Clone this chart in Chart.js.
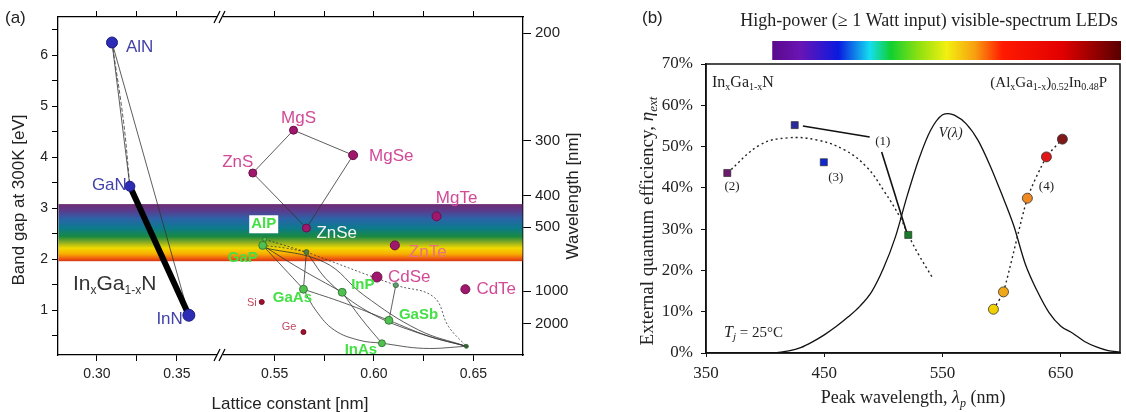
<!DOCTYPE html>
<html>
<head>
<meta charset="utf-8">
<script src="https://cdn.jsdelivr.net/npm/chart.js@4.4.1/dist/chart.umd.min.js"></script>
<style>
  html, body { margin: 0; padding: 0; background: #fff; }
  #wrap { position: relative; width: 1126px; height: 412px; }
  #chartA { position: absolute; left: 0; top: 0; }
  #chartB { position: absolute; left: 600px; top: 0; }
</style>
</head>
<body>
<div id="wrap">
  <canvas id="chartA" width="600" height="412"></canvas>
  <canvas id="chartB" width="526" height="412"></canvas>
</div>
<script>
const SANS = '"Liberation Sans", Arial, sans-serif';
const SERIF = '"Liberation Serif", "Times New Roman", serif';

// ---------- panel (a): band gap vs lattice constant ----------
const nitrideNames = ['AlN', 'GaN', 'InN'];
const nitrideLattice = [0.3094, 0.3206, 0.3575];
const nitrideGap = [6.25, 3.43, 0.90];

const iiviNames = ['ZnS', 'MgS', 'MgSe', 'ZnSe', 'MgTe', 'ZnTe', 'CdSe', 'CdTe'];
const iiviLattice = [0.539, 0.5595, 0.5895, 0.566, 0.6315, 0.6105, 0.6015, 0.646];
const iiviGap = [3.69, 4.53, 4.04, 2.61, 2.84, 2.27, 1.65, 1.41];

const iiivNames = ['AlP', 'GaP', 'AlAs', 'GaAs', 'InP', 'AlSb', 'GaSb', 'InAs', 'InSb'];
const iiivLattice = [0.545, 0.544, 0.566, 0.5645, 0.584, 0.611, 0.6075, 0.604, 0.6465];
const iiivGap = [2.39, 2.27, 2.14, 1.41, 1.35, 1.49, 0.80, 0.35, 0.29];

const groupIVNames = ['Si', 'Ge'];
const groupIVLattice = [0.5435, 0.5645];
const groupIVGap = [1.16, 0.57];

const visibleBand = [1.96, 3.08];   // eV range of the rainbow strip

// alloy curves as [lattice, gap] pairs
const inganCurve = [[0.3206, 3.43], [0.3575, 0.90]];
const nitrideStraight = [
  [[0.3094, 6.25], [0.3206, 3.43]],
  [[0.3094, 6.25], [0.3575, 0.90]]
];
const nitrideBowed = [[0.3094, 6.25], [0.3166, 4.70], [0.3206, 3.43]];
const iiviLoop = [[0.539, 3.69], [0.5595, 4.53], [0.5895, 4.04], [0.566, 2.61], [0.539, 3.69]];
const iiivSolid = [
  [[0.544, 2.27], [0.5645, 1.41]],
  [[0.566, 2.14], [0.5645, 1.41]],
  [[0.5645, 1.41], [0.571, 0.98], [0.58, 0.61], [0.5925, 0.41], [0.604, 0.35]],
  [[0.5645, 1.41], [0.585, 1.14], [0.6075, 0.80]],
  [[0.544, 2.27], [0.5625, 1.82], [0.584, 1.35]],
  [[0.584, 1.35], [0.5935, 0.84], [0.604, 0.35]],
  [[0.604, 0.35], [0.625, 0.25], [0.6465, 0.29]],
  [[0.6075, 0.80], [0.6275, 0.49], [0.6465, 0.29]],
  [[0.611, 1.49], [0.6075, 0.80]],
  [[0.566, 2.14], [0.5775, 1.55], [0.5975, 0.96], [0.6225, 0.55], [0.6465, 0.29]],
  [[0.544, 2.23], [0.575, 1.94], [0.595, 1.29], [0.6225, 0.61], [0.6465, 0.29]]
];
const iiivDotted = [
  [[0.545, 2.39], [0.566, 2.14]],
  [[0.544, 2.27], [0.555, 2.22], [0.566, 2.14]],
  [[0.566, 2.14], [0.611, 1.49], [0.63, 1.26], [0.6375, 0.68], [0.6465, 0.29]]
];

const latticeTicks = [0.30, 0.325, 0.35, 0.55, 0.575, 0.60, 0.625, 0.65];
const latticeLabels = ['0.30', '', '0.35', '0.55', '', '0.60', '', '0.65'];
const gapTicks = [0.5, 1, 1.5, 2, 2.5, 3, 3.5, 4, 4.5, 5, 5.5, 6, 6.5];
const gapLabels = ['', '1', '', '2', '', '3', '', '4', '', '5', '', '6', ''];
const wavelengthTickGap = [6.43, 4.33, 3.25, 2.63, 1.37, 0.73];
const wavelengthLabels = ['200', '300', '400', '500', '1000', '2000'];

// ---------- panel (b): EQE vs peak wavelength ----------
const inganLambda = [368, 425, 449.6, 521];
const inganEqe = [43.6, 55.2, 46.2, 28.6];
const inganColors = ['#6a1a6a', '#2a2a9a', '#1028d0', '#1a7a2a'];

const alinpLambda = [593, 601.5, 621.7, 637.8, 651.3];
const alinpEqe = [10.6, 14.8, 37.5, 47.5, 51.8];
const alinpColors = ['#f0d000', '#f0a818', '#f08a20', '#e01818', '#801818'];

const inganFitLambda = [368, 395.6, 419, 443.7, 467, 486, 501, 514, 521, 530, 541.6];
const inganFitEqe = [43.6, 50.4, 52.1, 51.6, 49.2, 45, 39, 32.9, 28.6, 23.7, 18.2];

const vLambda = [410, 420, 430, 440, 450, 460, 470, 480, 490, 500, 510, 520, 530, 540, 550, 555, 560,
  570, 580, 590, 600, 610, 620, 630, 640, 650, 660, 670, 680, 690, 700];
const vValue = [0.1, 0.5, 1.3, 2.7, 4.4, 6.4, 8.7, 11.3, 14.8, 20.5, 28, 38, 47, 54, 57.7, 58, 57.6,
  55.5, 51.5, 45.5, 38.5, 31, 21.5, 15, 9.8, 6.5, 4.8, 2.8, 1.5, 0.6, 0.2];

const note1Lambda = [431.9, 488.4];
const note1Eqe = [55.0, 52.3];
const note1bLambda = [498.5, 519.6];
const note1bEqe = [48.7, 29.3];

const noteText = ['(1)', '(2)', '(3)', '(4)'];
const noteLambda = [499.4, 372, 459.7, 637.8];
const noteEqe = [51.3, 40.2, 42.6, 40.4];

const peakTicks = [350, 450, 550, 650];
const colorbarRange = [406, 700];

// ---------- helpers ----------
const zip = (xs, ys) => xs.map((x, i) => ({ x: x, y: ys[i] }));
const pairs = arr => arr.map(p => ({ x: p[0], y: p[1] }));

function richText(ctx, parts, x, y, align, rot) {
  ctx.save();
  ctx.translate(x, y);
  if (rot) ctx.rotate(rot);
  ctx.textAlign = 'left';
  ctx.textBaseline = 'alphabetic';
  let w = 0;
  parts.forEach(p => { ctx.font = p[1]; w += ctx.measureText(p[0]).width; });
  let cx = align === 'center' ? -w / 2 : (align === 'right' ? -w : 0);
  parts.forEach(p => {
    ctx.font = p[1];
    ctx.fillText(p[0], cx, p[2] || 0);
    cx += ctx.measureText(p[0]).width;
  });
  ctx.restore();
}

// broken lattice-constant axis
const AXIS_BREAK = { lowMin: 0.2756, lowMax: 0.377, highMin: 0.5225, highMax: 0.675, split: 162 / 465 };
class BrokenScale extends Chart.LinearScale {
  static id = 'broken';
  static defaults = Chart.LinearScale.defaults;
  toDecimal(v) {
    const b = AXIS_BREAK;
    if (v < (b.lowMax + b.highMin) / 2) return (v - b.lowMin) / (b.lowMax - b.lowMin) * b.split;
    return b.split + (v - b.highMin) / (b.highMax - b.highMin) * (1 - b.split);
  }
  getPixelForValue(v) {
    return this.getPixelForDecimal(this.toDecimal(v));
  }
  getValueForPixel(p) {
    const d = this.getDecimalForPixel(p), b = AXIS_BREAK;
    if (d < b.split) return b.lowMin + d / b.split * (b.lowMax - b.lowMin);
    return b.highMin + (d - b.split) / (1 - b.split) * (b.highMax - b.highMin);
  }
}
Chart.register(BrokenScale);

// ---------- panel (a) datasets ----------
const thinLine = (pts, dash, tension) => ({
  data: pairs(pts), showLine: true, pointRadius: 0, borderColor: '#333', borderWidth: 0.8,
  borderDash: dash || [], tension: tension === undefined ? 0.4 : tension, order: 2
});

const datasetsA = [
  { data: zip(nitrideLattice, nitrideGap), pointRadius: [5.5, 5, 6], pointBackgroundColor: '#2c2cb4',
    pointBorderColor: '#1c1c86', pointBorderWidth: 1, order: 0 },
  { data: zip(iiviLattice, iiviGap), pointRadius: [4, 4, 4.5, 4, 4.5, 4.5, 5, 4.5],
    pointBackgroundColor: '#a0186e', pointBorderColor: '#6a0e48', pointBorderWidth: 1, order: 0 },
  { data: zip(iiivLattice, iiivGap), pointRadius: [2, 4, 2.5, 4, 4, 2.5, 4, 3.5, 2],
    pointBackgroundColor: ['#50c050', '#50c050', '#5a7a4a', '#50c050', '#50c050', '#6a9a7a', '#50c050', '#50c050', '#3a5a3a'],
    pointBorderColor: '#2a6a2a', pointBorderWidth: 0.8, order: 0 },
  { data: zip(groupIVLattice, groupIVGap), pointRadius: 2.5, pointBackgroundColor: '#a01030',
    pointBorderColor: '#701020', order: 0 },
  { data: pairs(inganCurve), showLine: true, pointRadius: 0, borderColor: '#000', borderWidth: 6,
    borderCapStyle: 'round', order: 1 },
  ...nitrideStraight.map(c => thinLine(c, [], 0)),
  thinLine(nitrideBowed, [4, 2]),
  thinLine(iiviLoop, [], 0),
  ...iiivSolid.map(c => thinLine(c)),
  ...iiivDotted.map(c => thinLine(c, [2, 2]))
];

const labelStyleA = {
  AlN: { dx: 14, dy: 5, align: 'left' }, GaN: { dx: -38, dy: -1, align: 'left' }, InN: { dx: -6, dy: 4, align: 'right' },
  ZnS: { dx: -15, dy: -11, align: 'center' }, MgS: { dx: 5, dy: -12, align: 'center' },
  MgSe: { dx: 16, dy: 1, align: 'left' }, MgTe: { dx: 20, dy: -18, align: 'center' },
  ZnSe: { dx: 10, dy: 5, align: 'left', color: '#f4f4f4' }, ZnTe: { dx: 14, dy: 7, align: 'left', color: '#ea6e86' },
  CdSe: { dx: 11, dy: 0, align: 'left' }, CdTe: { dx: 11, dy: 0, align: 'left' },
  AlP: { dx: -1, dy: -15, align: 'center', box: true }, GaP: { dx: -5, dy: 12, align: 'right' },
  GaAs: { dx: -11, dy: 9, align: 'center' }, InP: { dx: 9, dy: -7, align: 'left' },
  GaSb: { dx: 10, dy: -5, align: 'left' }, InAs: { dx: -21, dy: 7, align: 'center' },
  Si: { dx: -5, dy: 1, align: 'right' }, Ge: { dx: -7, dy: -5, align: 'right' }
};

const panelAPlugin = {
  id: 'panelA',
  beforeDatasetsDraw(chart) {
    const { ctx, chartArea: ca, scales: { y } } = chart;
    const top = y.getPixelForValue(visibleBand[1]);
    const bot = y.getPixelForValue(visibleBand[0]);
    const g = ctx.createLinearGradient(0, top, 0, bot);
    [[0, '#6e2c72'], [0.12, '#5a3c8e'], [0.26, '#2a64a8'], [0.42, '#0c7a8c'], [0.57, '#1a8a40'],
     [0.67, '#8cac22'], [0.77, '#f2da00'], [0.87, '#f8b000'], [0.95, '#f06010'], [1, '#d83412']]
      .forEach(s => g.addColorStop(s[0], s[1]));
    ctx.save();
    ctx.fillStyle = g;
    ctx.fillRect(ca.left + 0.5, top, ca.right - ca.left - 1, bot - top);
    ctx.restore();
  },
  afterDatasetsDraw(chart) {
    const { ctx, scales: { x, y } } = chart;
    const groups = [
      [nitrideNames, nitrideLattice, nitrideGap, 'normal 17px ' + SANS, '#4242aa'],
      [iiviNames, iiviLattice, iiviGap, 'normal 17px ' + SANS, '#d24a96'],
      [iiivNames, iiivLattice, iiivGap, 'bold 15px ' + SANS, '#44e044'],
      [groupIVNames, groupIVLattice, groupIVGap, 'normal 11px ' + SANS, '#c04a60']
    ];
    ctx.save();
    ctx.textBaseline = 'middle';
    groups.forEach(([names, xs, ys, font, color]) => {
      names.forEach((n, i) => {
        const st = labelStyleA[n];
        if (!st) return;
        const px = x.getPixelForValue(xs[i]) + st.dx;
        const py = y.getPixelForValue(ys[i]) + st.dy;
        ctx.font = font;
        ctx.textAlign = st.align;
        if (st.box) {
          const w = ctx.measureText(n).width;
          ctx.fillStyle = '#fff';
          ctx.fillRect(px - w / 2 - 2, py - 9, w + 4, 18);
        }
        ctx.fillStyle = st.color || color;
        ctx.fillText(n, px, py);
      });
    });
    ctx.restore();
  },
  afterDraw(chart) {
    const { ctx, chartArea: ca, scales: { x } } = chart;
    ctx.save();
    // axis break marks
    const bx = x.left + AXIS_BREAK.split * x.width;
    [ca.top, ca.bottom].forEach(by => {
      ctx.fillStyle = '#fff';
      ctx.fillRect(bx - 3, by - 2, 6, 4);
      ctx.strokeStyle = '#000';
      ctx.lineWidth = 1.2;
      [-3, 2].forEach(o => {
        ctx.beginPath();
        ctx.moveTo(bx + o - 3, by + 6);
        ctx.lineTo(bx + o + 3, by - 6);
        ctx.stroke();
      });
    });
    // titles and text
    ctx.fillStyle = '#222';
    richText(ctx, [['(a)', '17px ' + SANS]], 5, 23, 'left');
    richText(ctx, [['Band gap at 300K [eV]', '17px ' + SANS]], 24, 200, 'center', -Math.PI / 2);
    richText(ctx, [['Wavelength [nm]', '17px ' + SANS]], 578, 196, 'center', -Math.PI / 2);
    richText(ctx, [['Lattice constant [nm]', '17px ' + SANS]], 290, 409, 'center');
    ctx.fillStyle = '#333';
    richText(ctx, [['In', '21px ' + SANS], ['x', '12px ' + SANS, 4], ['Ga', '21px ' + SANS],
      ['1-x', '12px ' + SANS, 4], ['N', '21px ' + SANS]], 73, 290, 'left');
    ctx.restore();
  }
};

const axisCommonA = {
  grid: { drawOnChartArea: false, tickLength: 6, color: '#000' },
  border: { color: '#000', width: 1.3 }
};

new Chart(document.getElementById('chartA'), {
  type: 'scatter',
  data: { datasets: datasetsA },
  options: {
    responsive: false,
    animation: false,
    layout: { padding: 0 },
    plugins: { legend: { display: false }, tooltip: { enabled: false } },
    scales: {
      x: {
        type: 'broken', position: 'bottom', min: AXIS_BREAK.lowMin, max: AXIS_BREAK.highMax,
        afterBuildTicks: s => { s.ticks = latticeTicks.map(v => ({ value: v })); },
        afterFit: s => { s.height = 57; },
        ticks: { autoSkip: false, maxRotation: 0, padding: 5, color: '#222', font: { family: SANS, size: 14 },
          callback: (v, i) => latticeLabels[i] },
        ...axisCommonA
      },
      xTop: {
        type: 'broken', position: 'top', min: AXIS_BREAK.lowMin, max: AXIS_BREAK.highMax,
        afterBuildTicks: s => { s.ticks = latticeTicks.map(v => ({ value: v })); },
        afterFit: s => { s.height = 17; },
        ticks: { autoSkip: false, maxRotation: 0, callback: () => '' },
        ...axisCommonA
      },
      y: {
        type: 'linear', position: 'left', min: 0.12, max: 6.75,
        afterBuildTicks: s => { s.ticks = gapTicks.map(v => ({ value: v })); },
        afterFit: s => { s.width = 58; },
        ticks: { autoSkip: false, padding: 4, color: '#222', font: { family: SANS, size: 14 },
          callback: (v, i) => gapLabels[i] },
        ...axisCommonA
      },
      yR: {
        type: 'linear', position: 'right', min: 0.12, max: 6.75,
        afterBuildTicks: s => { s.ticks = wavelengthTickGap.map(v => ({ value: v })); },
        afterFit: s => { s.width = 77; },
        ticks: { autoSkip: false, padding: 4, color: '#222', font: { family: SANS, size: 15 },
          callback: (v, i) => wavelengthLabels[i] },
        grid: { drawOnChartArea: false, tickLength: 8, color: '#000' },
        border: { color: '#000', width: 1.3 }
      }
    }
  },
  plugins: [panelAPlugin]
});

// ---------- panel (b) ----------
const datasetsB = [
  { data: zip(inganLambda, inganEqe), pointStyle: 'rect', pointRadius: 5, pointBackgroundColor: inganColors,
    pointBorderColor: '#222', pointBorderWidth: 0.6, order: 0 },
  { data: zip(alinpLambda, alinpEqe), pointStyle: 'circle', pointRadius: 5, pointBackgroundColor: alinpColors,
    pointBorderColor: '#333', pointBorderWidth: 0.8, order: 0 },
  { data: zip(vLambda, vValue), showLine: true, pointRadius: 0, borderColor: '#111', borderWidth: 1.3,
    cubicInterpolationMode: 'monotone', order: 1 },
  { data: zip(inganFitLambda, inganFitEqe), showLine: true, pointRadius: 0, borderColor: '#222', borderWidth: 1.4,
    borderDash: [2, 3], tension: 0.4, order: 1 },
  { data: zip(alinpLambda, alinpEqe), showLine: true, pointRadius: 0, borderColor: '#222', borderWidth: 1.4,
    borderDash: [2, 3], tension: 0.2, order: 1 },
  { data: zip(note1Lambda, note1Eqe), showLine: true, pointRadius: 0, borderColor: '#111', borderWidth: 1.6, order: 1 },
  { data: zip(note1bLambda, note1bEqe), showLine: true, pointRadius: 0, borderColor: '#111', borderWidth: 1.6, order: 1 }
];

const panelBPlugin = {
  id: 'panelB',
  afterDraw(chart) {
    const { ctx, chartArea: ca, scales: { x, y } } = chart;
    ctx.save();
    ctx.strokeStyle = '#111';
    ctx.lineWidth = 1.5;
    ctx.strokeRect(ca.left, ca.top, ca.right - ca.left, ca.bottom - ca.top);

    // spectrum bar
    const l = x.getPixelForValue(colorbarRange[0]), r = x.getPixelForValue(colorbarRange[1]) + 1;
    const g = ctx.createLinearGradient(l, 0, r, 0);
    [[0, '#5a0a8c'], [0.08, '#6a14b4'], [0.19, '#0a1ae0'], [0.28, '#14def0'], [0.34, '#10d030'],
     [0.42, '#8ee010'], [0.5, '#f2f010'], [0.58, '#f8a010'], [0.66, '#ff1a00'], [0.83, '#e20000'], [1, '#580000']]
      .forEach(s => g.addColorStop(s[0], s[1]));
    ctx.fillStyle = g;
    ctx.fillRect(l, 41, r - l, 19);

    ctx.fillStyle = '#222';
    richText(ctx, [['(b)', '17px ' + SANS]], 42, 23, 'left');
    richText(ctx, [['High-power (\u2265 1 Watt input) visible-spectrum LEDs', '18px ' + SERIF]], 329, 26, 'center');
    richText(ctx, [['External quantum efficiency, ', '19px ' + SERIF], ['\u03b7', 'italic 19px ' + SERIF],
      ['ext', 'italic 13px ' + SERIF, 4]], 53, 221, 'center', -Math.PI / 2);
    richText(ctx, [['Peak wavelength, ', '18px ' + SERIF], ['\u03bb', 'italic 18px ' + SERIF],
      ['p', 'italic 12px ' + SERIF, 4], [' (nm)', '18px ' + SERIF]], 313, 403, 'center');

    richText(ctx, [['In', '16px ' + SERIF], ['x', '10px ' + SERIF, 3], ['Ga', '16px ' + SERIF],
      ['1-x', '10px ' + SERIF, 3], ['N', '16px ' + SERIF]], 112, 87, 'left');
    richText(ctx, [['(Al', '15px ' + SERIF], ['x', '10px ' + SERIF, 3], ['Ga', '15px ' + SERIF],
      ['1-x', '10px ' + SERIF, 3], [')', '15px ' + SERIF], ['0.52', '10px ' + SERIF, 3], ['In', '15px ' + SERIF],
      ['0.48', '10px ' + SERIF, 3], ['P', '15px ' + SERIF]], 507, 87, 'right');
    richText(ctx, [['T', 'italic 16px ' + SERIF], ['j', 'italic 11px ' + SERIF, 3], [' = 25\u00b0C', '15px ' + SERIF]],
      124, 337, 'left');

    ctx.textAlign = 'center';
    ctx.textBaseline = 'middle';
    ctx.font = '13px ' + SERIF;
    noteText.forEach((t, i) => ctx.fillText(t, x.getPixelForValue(noteLambda[i]), y.getPixelForValue(noteEqe[i])));
    ctx.font = 'italic 14px ' + SERIF;
    ctx.fillText('V(\u03bb)', x.getPixelForValue(556.8), y.getPixelForValue(53.3));
    ctx.restore();
  }
};

new Chart(document.getElementById('chartB'), {
  type: 'scatter',
  data: { datasets: datasetsB },
  options: {
    responsive: false,
    animation: false,
    layout: { padding: { top: 64, right: 6, left: 0, bottom: 0 } },
    plugins: { legend: { display: false }, tooltip: { enabled: false } },
    scales: {
      x: {
        type: 'linear', min: 350, max: 700,
        afterBuildTicks: s => { s.ticks = peakTicks.map(v => ({ value: v })); },
        afterFit: s => { s.height = 59; },
        ticks: { autoSkip: false, maxRotation: 0, padding: 6, color: '#222', font: { family: SERIF, size: 17 } },
        grid: { drawOnChartArea: false, tickLength: 4, color: '#111' },
        border: { color: '#111', width: 1.5 }
      },
      y: {
        type: 'linear', min: 0, max: 70,
        afterFit: s => { s.width = 106; },
        ticks: { stepSize: 10, padding: 8, color: '#222', font: { family: SERIF, size: 17 }, callback: v => v + '%' },
        grid: { drawOnChartArea: false, tickLength: 5, color: '#111' },
        border: { color: '#111', width: 1.5 }
      }
    }
  },
  plugins: [panelBPlugin]
});
</script>
</body>
</html>
